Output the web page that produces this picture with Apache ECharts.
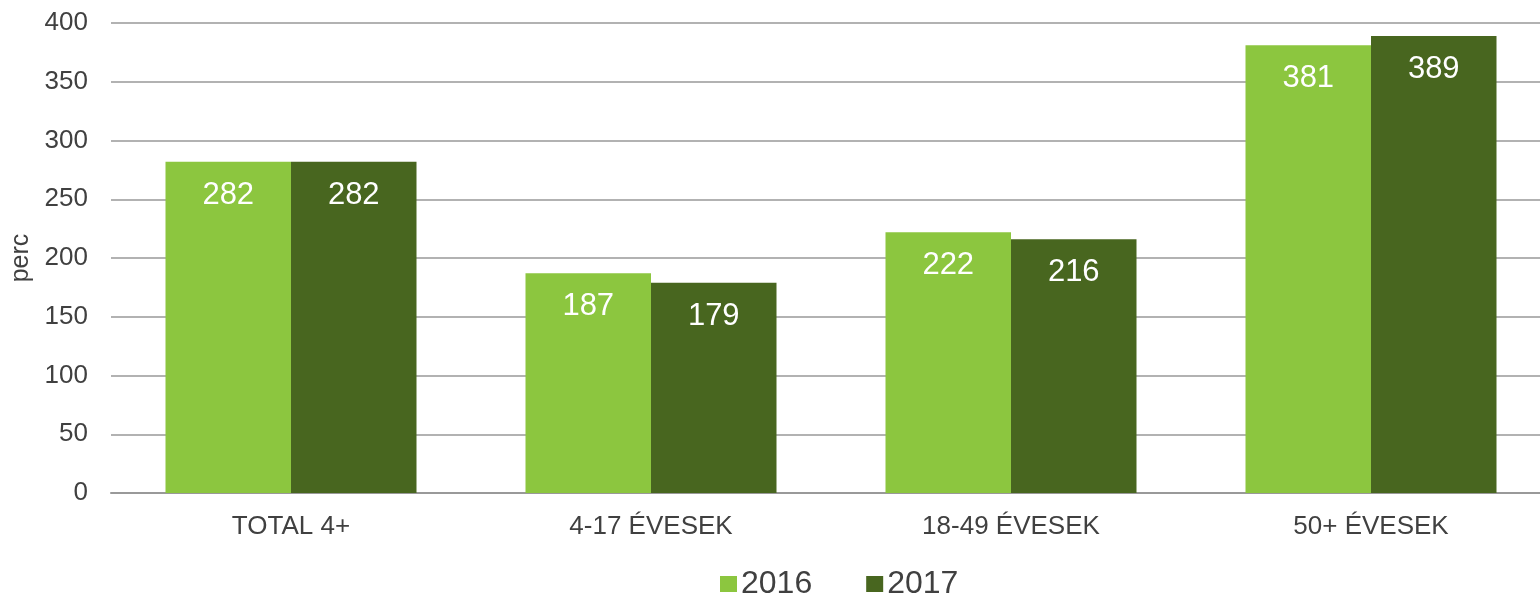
<!DOCTYPE html>
<html>
<head>
<meta charset="utf-8">
<script src="https://cdn.jsdelivr.net/npm/echarts@6/dist/echarts.min.js"></script>
<style>
  html, body { margin: 0; padding: 0; background: #fff; }
  #chart { width: 1540px; height: 593px; }
</style>
</head>
<body>
<div id="chart"></div>
<script>
// adatok
var categories = ['TOTAL 4+', '4-17 ÉVESEK', '18-49 ÉVESEK', '50+ ÉVESEK']
var values2016 = [282, 187, 222, 381]
var values2017 = [282, 179, 216, 389]
var yTicks = { min: 0, max: 400, interval: 50 }

var font = 'Liberation Sans, Arial, sans-serif'
var textColor = '#404040'

var chart = echarts.init(document.getElementById('chart'))

function barLabel() {
  return {
    show: true,
    position: 'insideTop',
    distance: 18,
    color: '#fff',
    fontSize: 31,
    lineHeight: 31,
    fontFamily: font
  }
}

var option = {
  animation: false,
  color: ['#8cc63f', '#48661f'],
  grid: {
    left: 111,
    top: 23,
    width: 1440,
    height: 470,
    containLabel: false,
    outerBoundsMode: 'none'
  },
  legend: {
    left: 715,
    top: 563,
    itemWidth: 17,
    itemHeight: 16,
    itemGap: 54,
    icon: 'rect',
    textStyle: {
      color: textColor,
      fontSize: 32,
      fontFamily: font,
      padding: [0, 0, 0, -1]
    },
    data: ['2016', '2017']
  },
  xAxis: {
    type: 'category',
    data: categories,
    axisTick: { show: false },
    axisLine: { lineStyle: { color: '#999', width: 2 } },
    axisLabel: {
      color: textColor,
      fontSize: 26,
      lineHeight: 26,
      margin: 21,
      fontFamily: font
    }
  },
  yAxis: {
    type: 'value',
    min: yTicks.min,
    max: yTicks.max,
    interval: yTicks.interval,
    name: 'perc',
    nameLocation: 'middle',
    nameRotate: 90,
    nameGap: 75,
    nameTextStyle: { color: textColor, fontSize: 25, fontFamily: font },
    axisLine: { show: false },
    axisTick: { show: false },
    axisLabel: {
      color: textColor,
      fontSize: 26,
      margin: 23,
      fontFamily: font
    },
    splitLine: { lineStyle: { color: '#999', width: 1.5 } }
  },
  series: [
    {
      name: '2016',
      type: 'bar',
      data: values2016,
      barWidth: 125.5,
      barGap: '0%',
      label: barLabel()
    },
    {
      name: '2017',
      type: 'bar',
      data: values2017,
      barWidth: 125.5,
      barGap: '0%',
      label: barLabel()
    }
  ]
}

chart.setOption(option, true)
</script>
</body>
</html>
